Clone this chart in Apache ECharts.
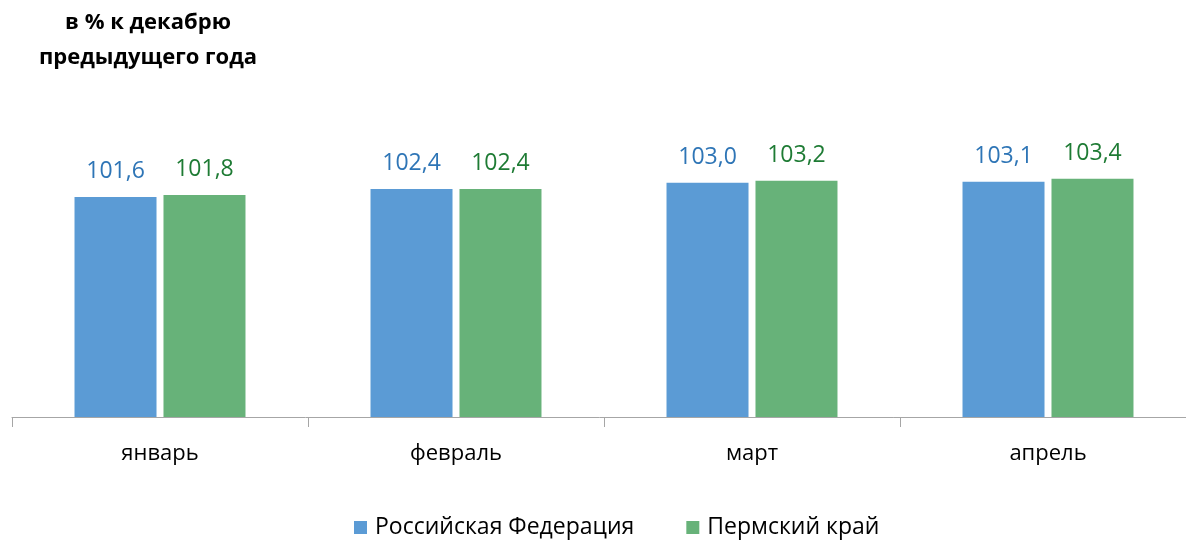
<!DOCTYPE html>
<html><head><meta charset="utf-8">
<script src="https://cdn.jsdelivr.net/npm/echarts@6/dist/echarts.min.js"></script>
<style>html,body{margin:0;padding:0;background:#fff}#c{width:1186px;height:542px}</style>
</head><body><div id="c"></div>
<script>
const categories = ['январь', 'февраль', 'март', 'апрель'];
const seriesNames = ['Российская Федерация', 'Пермский край'];
const rfValues = [101.6, 102.4, 103.0, 103.1];
const permValues = [101.8, 102.4, 103.2, 103.4];
const titleText = 'в % к декабрю\nпредыдущего года';

const font = '"Open Sans", "Noto Sans", sans-serif';
const chart = echarts.init(document.getElementById('c'));
const fmt = p => p.value.toFixed(1).replace('.', ',');
chart.setOption({
  animation: false,
  title: {
    text: titleText, left: 143, top: 0, textAlign: 'center',
    textStyle: {fontFamily: font, fontSize: 22, fontWeight: 'bold', color: '#000', lineHeight: 35}
  },
  legend: {
    top: 511, left: 349, itemWidth: 13, itemHeight: 13, itemGap: 52,
    icon: 'rect',
    textStyle: {fontFamily: font, fontSize: 23, color: '#000', padding: [0, 0, 0, 3]},
    data: seriesNames
  },
  grid: {left: 12, width: 1184, top: 111.5, bottom: 125, outerBoundsMode: 'none', containLabel: false},
  xAxis: {
    type: 'category', data: categories,
    axisLine: {lineStyle: {color: '#A6A6A6', width: 1}},
    axisTick: {show: true, length: 10, lineStyle: {color: '#A6A6A6'}},
    axisLabel: {fontFamily: font, fontSize: 22, color: '#000', margin: 26}
  },
  yAxis: {type: 'value', min: 80, max: 110, show: false, splitLine: {show: false}},
  series: [
    {name: seriesNames[0], type: 'bar', data: rfValues, barWidth: 82, barGap: '8.5%',
     itemStyle: {color: '#5B9BD5'},
     label: {show: true, position: 'top', distance: 14, formatter: fmt, fontFamily: font, fontSize: 23, color: '#2E75B6'}},
    {name: seriesNames[1], type: 'bar', data: permValues, barWidth: 82,
     itemStyle: {color: '#67B279'},
     label: {show: true, position: 'top', distance: 14, formatter: fmt, fontFamily: font, fontSize: 23, color: '#1E7B34'}}
  ]
});
</script></body></html>
